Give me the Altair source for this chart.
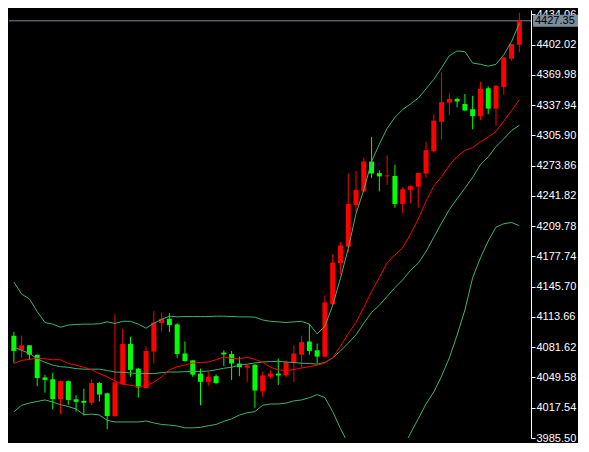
import altair as alt
import pandas as pd

# ---- candle data ----
opens = [4093.8, 4078.4, 4083.7, 4073.7, 4049.7, 4047.7, 4026.8, 4045.7, 4026.5, 4024.8,
         4022.8, 4043.7, 4032.8, 4008.8, 4042.4, 4085.0, 4059.0, 4038.4, 4077.0, 4107.1,
         4111.8, 4105.8, 4075.0, 4067.7, 4053.7, 4045.0, 4051.0, 4076.0, 4074.4, 4064.4,
         4060.0, 4063.0, 4034.8, 4050.4, 4053.7, 4051.7, 4065.0, 4073.7, 4087.7, 4078.4,
         4071.7, 4127.1, 4170.7, 4188.1, 4232.1, 4246.6, 4278.3, 4266.0, 4262.6, 4263.0,
         4233.4, 4248.3, 4251.6, 4265.6, 4289.1, 4320.4, 4340.6, 4344.6, 4339.3, 4333.7,
         4326.4, 4355.9, 4334.4, 4357.3, 4387.3, 4402.0]
highs = [4097.8, 4093.8, 4083.7, 4073.7, 4052.4, 4054.4, 4046.4, 4046.4, 4030.8, 4037.5,
         4047.7, 4045.0, 4033.5, 4116.5, 4101.1, 4092.8, 4059.7, 4082.4, 4119.8, 4118.5,
         4117.8, 4107.1, 4087.7, 4068.0, 4059.0, 4055.7, 4053.0, 4078.4, 4077.7, 4071.7,
         4062.7, 4063.7, 4055.7, 4057.0, 4069.7, 4067.7, 4083.7, 4093.8, 4106.5, 4085.7,
         4136.5, 4180.0, 4192.8, 4265.6, 4268.3, 4282.3, 4304.4, 4269.0, 4285.0, 4275.0,
         4251.0, 4253.0, 4266.3, 4299.1, 4328.4, 4372.6, 4350.6, 4345.9, 4349.9, 4347.9,
         4362.6, 4357.9, 4359.3, 4389.4, 4402.7, 4436.0]
lows = [4065.0, 4070.4, 4068.4, 4040.4, 4033.5, 4015.8, 4010.8, 4020.8, 4013.5, 4009.2,
        4020.2, 4024.2, 3994.8, 4007.5, 4041.7, 4050.4, 4028.2, 4038.4, 4064.4, 4098.5,
        4097.8, 4070.4, 4066.5, 4050.4, 4020.2, 4041.0, 4042.4, 4061.7, 4047.0, 4051.0,
        4045.0, 4017.5, 4028.8, 4048.4, 4041.7, 4049.7, 4045.0, 4059.7, 4073.7, 4064.4,
        4071.0, 4126.5, 4158.7, 4182.0, 4224.8, 4245.6, 4261.0, 4246.6, 4253.6, 4229.4,
        4223.4, 4234.1, 4229.4, 4261.0, 4288.4, 4301.7, 4327.7, 4335.7, 4331.7, 4312.4,
        4322.4, 4328.4, 4316.4, 4349.3, 4385.3, 4394.0]
closes = [4077.7, 4083.7, 4073.7, 4049.0, 4047.0, 4026.8, 4045.7, 4025.8, 4023.8, 4022.8,
          4043.7, 4031.5, 4008.8, 4044.4, 4085.0, 4057.7, 4039.0, 4077.7, 4107.8, 4111.8,
          4105.1, 4074.4, 4067.0, 4052.7, 4045.0, 4050.4, 4043.7, 4074.0, 4064.4, 4060.4,
          4062.4, 4035.8, 4051.7, 4053.7, 4051.7, 4065.7, 4075.0, 4087.0, 4077.7, 4071.7,
          4129.1, 4171.3, 4189.4, 4233.4, 4248.3, 4278.3, 4265.6, 4262.6, 4263.6, 4233.4,
          4249.0, 4252.3, 4266.3, 4290.4, 4321.7, 4341.3, 4344.6, 4341.9, 4332.4, 4326.4,
          4355.3, 4334.4, 4358.6, 4388.6, 4402.7, 4427.35]

# ---- indicator lines ----
upper = [4150.7, 4137.9, 4132.8, 4119.5, 4107.8, 4106.1, 4102.8, 4105.1, 4105.8, 4106.1,
         4106.1, 4106.5, 4108.5, 4106.8, 4109.1, 4109.1, 4106.1, 4101.8, 4107.1, 4111.1,
         4114.5, 4113.8, 4114.1, 4114.1, 4114.1, 4114.1, 4114.5, 4114.5, 4114.1, 4113.8,
         4113.8, 4113.5, 4110.5, 4109.1, 4108.5, 4107.8, 4108.5, 4109.1, 4106.1, 4095.8,
         4103.8, 4126.1, 4154.7, 4186.3, 4223.1, 4248.3, 4278.3, 4296.7, 4313.4, 4325.1,
         4333.4, 4339.3, 4345.3, 4355.3, 4365.3, 4377.6, 4390.4, 4395.4, 4394.7, 4382.6,
         4381.3, 4379.3, 4381.3, 4391.4, 4405.4, 4424.7]
middle = [4081.7, 4078.4, 4075.0, 4069.4, 4065.7, 4062.7, 4061.0, 4060.4, 4059.0, 4058.4,
          4058.4, 4058.4, 4057.0, 4055.4, 4055.0, 4054.4, 4053.7, 4053.7, 4053.7, 4054.7,
          4055.4, 4055.4, 4055.7, 4056.0, 4056.0, 4056.4, 4057.7, 4059.4, 4060.4, 4062.7,
          4063.7, 4065.0, 4066.0, 4066.4, 4066.7, 4066.0, 4065.4, 4064.7, 4064.4, 4063.7,
          4065.4, 4070.4, 4077.7, 4086.0, 4094.8, 4107.1, 4118.5, 4126.1, 4135.5, 4144.7,
          4153.0, 4163.0, 4170.7, 4183.0, 4198.1, 4213.1, 4227.4, 4239.0, 4250.0, 4261.6,
          4275.0, 4283.3, 4294.1, 4302.4, 4311.1, 4316.7]
lower = [4013.2, 4020.2, 4022.5, 4024.2, 4025.8, 4023.5, 4020.8, 4018.8, 4016.2, 4010.2,
         4010.8, 4009.8, 4004.2, 4002.5, 4002.5, 4002.5, 4002.5, 4003.5, 4001.5, 3999.8,
         3999.2, 3998.2, 3996.2, 3996.2, 3996.8, 3998.5, 3999.8, 4003.2, 4005.8, 4009.8,
         4012.2, 4013.5, 4020.2, 4021.5, 4021.5, 4022.5, 4024.8, 4025.8, 4028.2, 4031.5,
         4028.2, 4013.5, 3995.5, 3979.4, 3967.4, 3962.4, 3957.4, 3955.4, 3957.4, 3963.4,
         3974.4, 3990.5, 4005.8, 4021.5, 4034.2, 4051.0, 4070.4, 4094.5, 4121.1, 4155.3,
         4176.3, 4194.1, 4208.8, 4212.4, 4213.8, 4210.4]
ma = [4064.4, 4067.7, 4068.7, 4070.0, 4069.4, 4068.4, 4068.4, 4064.4, 4062.7, 4060.4,
      4057.7, 4053.7, 4050.4, 4046.0, 4042.7, 4041.4, 4039.7, 4041.0, 4044.4, 4050.4,
      4057.7, 4061.0, 4062.7, 4065.0, 4065.4, 4066.0, 4068.4, 4071.4, 4069.7, 4069.4,
      4071.0, 4068.7, 4065.7, 4060.4, 4057.7, 4057.0, 4058.0, 4059.7, 4061.0, 4062.7,
      4065.0, 4070.4, 4082.7, 4096.1, 4108.1, 4123.8, 4140.7, 4155.3, 4171.3, 4179.3,
      4187.3, 4201.4, 4217.4, 4236.4, 4252.3, 4262.3, 4274.3, 4283.6, 4290.1, 4293.1,
      4299.1, 4304.1, 4310.1, 4321.1, 4332.4, 4343.6]

tick_values = [3985.50, 4017.54, 4049.58, 4081.62, 4113.66, 4145.70, 4177.74, 4209.78,
               4241.82, 4273.86, 4305.90, 4337.94, 4369.98, 4402.02, 4434.06]
last_price = [4427.35]

W, H = 522, 428

n = len(opens)
df = pd.DataFrame({
    "i": list(range(n)),
    "open": opens, "high": highs, "low": lows, "close": closes,
    "upper": upper, "middle": middle, "lower": lower, "ma": ma,
})
df["dir"] = ["up" if c >= o else "down" for o, c in zip(opens, closes)]
pdf = pd.DataFrame({"p": last_price})

yscale = alt.Scale(domain=[3985.5, 4438.8], zero=False, nice=False, padding=0)
xscale = alt.Scale(domain=[-0.625, 66.5], zero=False, nice=False, padding=0)

yaxis = alt.Axis(orient="right", values=tick_values, format=".2f",
                 domainColor="#ffffff", tickColor="#ffffff", labelColor="#ffffff",
                 tickSize=4, labelPadding=1, labelFont="Liberation Sans",
                 labelFontSize=11, grid=False, labelOverlap=False,
                 domainWidth=1, tickWidth=1)


def Y(field):
    return alt.Y(f"{field}:Q", scale=yscale, axis=yaxis, title=None)


X = alt.X("i:Q", scale=xscale, axis=None)
color = alt.Color("dir:N", scale=alt.Scale(domain=["up", "down"], range=["#ff0000", "#00ff00"]),
                  legend=None)

base = alt.Chart(df)

price_line = alt.Chart(pdf).mark_rule(color="#7a8896", strokeWidth=1).encode(
    y=Y("p"), x=alt.value(0), x2=alt.value(W))

wicks = base.mark_rule(strokeWidth=1).encode(x=X, y=Y("low"), y2="high:Q", color=color)
bodies = base.mark_bar(size=5, strokeWidth=0).encode(x=X, y=Y("open"), y2="close:Q", color=color)


def line(field, col):
    return base.mark_line(color=col, strokeWidth=1, clip=True).encode(x=X, y=Y(field))


band_col = "#3cb371"
lines = [line("upper", band_col), line("middle", band_col), line("lower", band_col), line("ma", "#ff0000")]

box = alt.Chart(pdf).mark_rect(color="#7d8c9b", yOffset=-6, y2Offset=6).encode(
    x=alt.value(W + 2), x2=alt.value(W + 47), y=Y("p"), y2="p:Q")
box_text = alt.Chart(pdf).mark_text(align="left", baseline="middle", color="#000000",
                                    font="Liberation Sans", fontSize=11).encode(
    x=alt.value(W + 4), y=Y("p"), text=alt.Text("p:Q", format=".2f"))

chart = alt.layer(price_line, wicks, bodies, *lines, box, box_text).properties(
    width=W, height=H, padding=0, background="#000000"
).configure_view(strokeWidth=0)

chart.save("out.html", embed_options={"renderer": "svg", "actions": False})
